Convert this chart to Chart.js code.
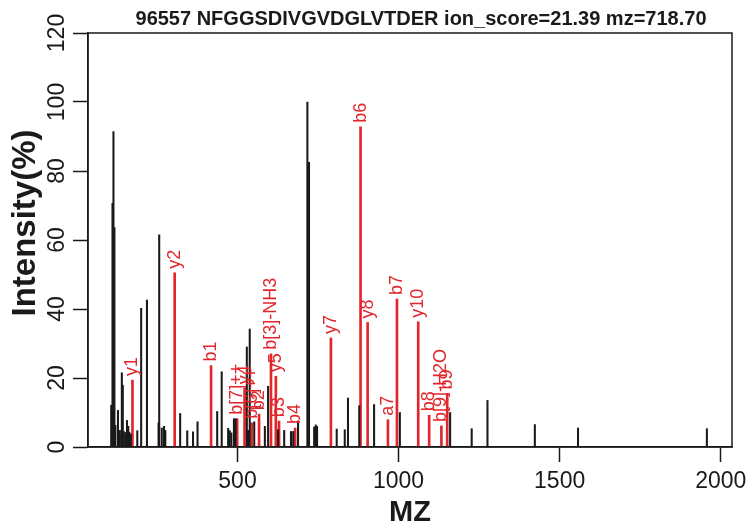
<!DOCTYPE html>
<html><head><meta charset="utf-8">
<script src="https://cdn.jsdelivr.net/npm/chart.js@4.4.1/dist/chart.umd.min.js"></script>
<style>html,body{margin:0;padding:0;background:#fff}#wrap{width:753px;height:530px;position:relative}</style>
</head><body><div id="wrap"><canvas id="c" width="753" height="530"></canvas></div>
<script>
const titleText = "96557 NFGGSDIVGVDGLVTDER ion_score=21.39 mz=718.70";
const xTitle = "MZ";
const yTitle = "Intensity(%)";
const xTickValues = [500, 1000, 1500, 2000];
const yTickValues = [0, 20, 40, 60, 80, 100, 120];

// unannotated peaks (black)
const peakMz = [108,112,115,118,121,129,135,141,144,147,152,157,161,164,169,189,201,219,255,257,265,272,276,322,344,362,376,437,451,471,476,481,489,494,529,533,538,552,585,595,626,645,666,673,688,717,722,738,743,747,808,833,843,878,924,1004,1160,1227,1276,1423,1557,1957];
const peakInt = [12.1,70.6,91.4,63.6,6.3,10.6,4.8,21.5,17.9,4.5,4.2,7.7,6.0,4.3,3.8,4.7,40.2,42.6,7.0,61.5,5.5,6.0,4.8,9.7,4.7,4.4,7.3,10.3,21.8,5.4,4.7,4.1,8.2,8.2,29.0,4.8,34.2,7.3,6.0,17.6,5.0,4.8,4.5,4.5,7.3,100,82.5,5.8,6.4,6.0,5.2,5.0,14.2,12.0,12.3,10.0,10.0,5.3,13.5,6.5,5.5,5.3];

// annotated fragment ions (red)
const ionMz = [174,305,418,499,522,544,567,604,619,629,679,790,882,904,967,995,1061,1095,1133,1151];
const ionInt = [19.4,50.5,23.6,8.2,17,7,9.5,27,20.5,7.5,5.5,31.6,92.8,36.1,7.9,42.9,36.3,9.2,6.1,15.5];
const ionLabels = ["y1","y2","b1","b[7]++","y4","b[6]++","b2","b[3]-NH3","y5","b3","b4","y7","b6","y8","a7","b7","y10","b8","b[9]-H2O","b9"];

const RED = '#e2262c';
const INK = '#1a1a1a';
const FONT = '"Liberation Sans", Arial, Helvetica, sans-serif';

const textPlugin = {
  id: 'rtext',
  afterDraw(chart) {
    const ctx = chart.ctx, a = chart.chartArea;
    const xs = chart.scales.x, ys = chart.scales.y;
    ctx.save();
    ctx.strokeStyle = INK; ctx.lineWidth = 1.5;
    ctx.strokeRect(a.left, a.top, a.right - a.left, a.bottom - a.top);
    ctx.fillStyle = RED;
    ctx.font = '18px ' + FONT;
    ctx.textAlign = 'left'; ctx.textBaseline = 'middle';
    ionMz.forEach((m, i) => {
      const px = xs.getPixelForValue(m), py = ys.getPixelForValue(ionInt[i]);
      ctx.save(); ctx.translate(px, py - 4); ctx.rotate(-Math.PI / 2);
      ctx.fillText(ionLabels[i], 0, 0); ctx.restore();
    });
    ctx.fillStyle = INK;
    ctx.font = 'bold 20px ' + FONT; ctx.textAlign = 'center'; ctx.textBaseline = 'alphabetic';
    ctx.fillText(titleText, 421, 25);
    ctx.font = '23px ' + FONT;
    xTickValues.forEach(v => ctx.fillText(String(v), xs.getPixelForValue(v), 488));
    ctx.font = 'bold 29px ' + FONT;
    ctx.fillText(xTitle, (a.left + a.right) / 2, 521);
    ctx.font = '23px ' + FONT;
    yTickValues.forEach(v => {
      ctx.save(); ctx.translate(63.5, ys.getPixelForValue(v)); ctx.rotate(-Math.PI / 2);
      ctx.fillText(String(v), 0, 0); ctx.restore();
    });
    ctx.font = 'bold 33px ' + FONT;
    ctx.save(); ctx.translate(35, 223); ctx.rotate(-Math.PI / 2);
    ctx.fillText(yTitle, 0, 0); ctx.restore();
    ctx.restore();
  }
};

new Chart(document.getElementById('c'), {
  type: 'bar',
  data: {
    datasets: [
      { data: peakMz.map((m, i) => ({ x: m, y: peakInt[i] })), backgroundColor: INK, barThickness: 1.4, grouped: false },
      { data: ionMz.map((m, i) => ({ x: m, y: ionInt[i] })), backgroundColor: RED, barThickness: 2, grouped: false }
    ]
  },
  options: {
    responsive: false, animation: false, devicePixelRatio: 1,
    layout: { padding: { top: 33, right: 21, left: 0, bottom: 0 } },
    plugins: { legend: { display: false }, title: { display: false }, tooltip: { enabled: false } },
    scales: {
      x: {
        type: 'linear', min: 36, max: 2035, offset: false,
        afterBuildTicks: s => { s.ticks = xTickValues.map(v => ({ value: v })); },
        afterFit: s => { s.height = 83; },
        ticks: { display: false },
        grid: { drawOnChartArea: false, drawTicks: true, tickLength: 15, tickColor: INK, tickWidth: 1.5, offset: false },
        border: { display: true, color: INK, width: 1.5 }
      },
      y: {
        min: 0, max: 120,
        afterBuildTicks: s => { s.ticks = yTickValues.map(v => ({ value: v })); },
        afterFit: s => { s.width = 88; },
        ticks: { display: false },
        grid: { drawOnChartArea: false, drawTicks: true, tickLength: 15, tickColor: INK, tickWidth: 1.5 },
        border: { display: true, color: INK, width: 1.5 }
      }
    }
  },
  plugins: [textPlugin]
});
</script>
</body></html>
